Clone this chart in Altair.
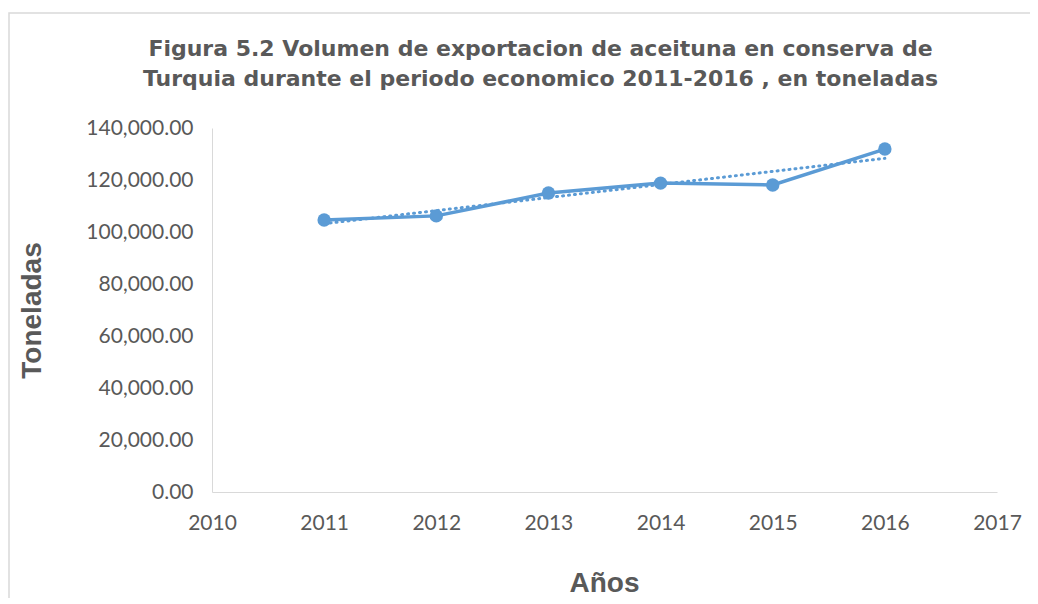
import altair as alt
import pandas as pd

years = [2011, 2012, 2013, 2014, 2015, 2016]
tons = [104600, 106200, 115000, 118800, 118100, 131900]
x_ticks = [2010, 2011, 2012, 2013, 2014, 2015, 2016, 2017]
y_ticks = [0, 20000, 40000, 60000, 80000, 100000, 120000, 140000]

df = pd.DataFrame({"year": years, "tons": tons})

BLUE = "#5b9bd5"
GRAY = "#595959"

x_enc = alt.X("year:Q", scale=alt.Scale(domain=[2010, 2017], nice=False, zero=False),
              axis=alt.Axis(values=x_ticks, format="d", title="Años", grid=False,
                            ticks=False, domainColor="#d9d9d9", domainWidth=1,
                            labelColor=GRAY, labelFont="Lato", labelFontSize=21,
                            labelPadding=20, labelFlush=False,
                            titleColor=GRAY, titleFont="Liberation Sans",
                            titleFontSize=28, titleFontWeight="bold", titlePadding=36,
                            titleX=392, titleAnchor="middle"))
y_enc = alt.Y("tons:Q", scale=alt.Scale(domain=[0, 140000], nice=False),
              axis=alt.Axis(values=y_ticks, format=",.2f", title="Toneladas", grid=False,
                            ticks=False, domainColor="#d9d9d9", domainWidth=1,
                            labelColor=GRAY, labelFont="Lato", labelFontSize=21,
                            labelPadding=19,
                            titleColor=GRAY, titleFont="Liberation Sans",
                            titleFontSize=28, titleFontWeight="bold", titlePadding=39))

base = alt.Chart(df)

border = base.mark_rect(fill=None, stroke="#d9d9d9", strokeWidth=1.5, clip=False).encode(
    x=alt.value(-203), x2=alt.value(860), y=alt.value(-115), y2=alt.value(520)
).transform_filter("datum.year == 2011")

trend = base.transform_regression("year", "tons", method="linear").mark_line(
    color=BLUE, strokeWidth=3, strokeDash=[1, 5], strokeCap="round"
).encode(x=x_enc, y=y_enc)

line = base.mark_line(color=BLUE, strokeWidth=3.5).encode(x=x_enc, y=y_enc)
pts = base.mark_circle(color=BLUE, size=180, opacity=1).encode(x=x_enc, y=y_enc)

chart = alt.layer(border, trend, line, pts).properties(
    width=785, height=364,
    title=alt.TitleParams(
        text=["Figura 5.2 Volumen de exportacion de aceituna en conserva de",
              "Turquia durante el periodo economico 2011-2016 , en toneladas"],
        font="DejaVu Sans", fontSize=22, fontWeight="bold", color=GRAY,
        anchor="middle", frame="group", dx=-64, offset=0, dy=79, lineHeight=30
    ),
    padding={"left": 204, "top": 120, "right": 33, "bottom": 106},
    autosize=alt.AutoSizeParams(type="none")
).configure_view(stroke=None)

chart.save("out.html", embed_options={"renderer": "svg", "actions": False})
